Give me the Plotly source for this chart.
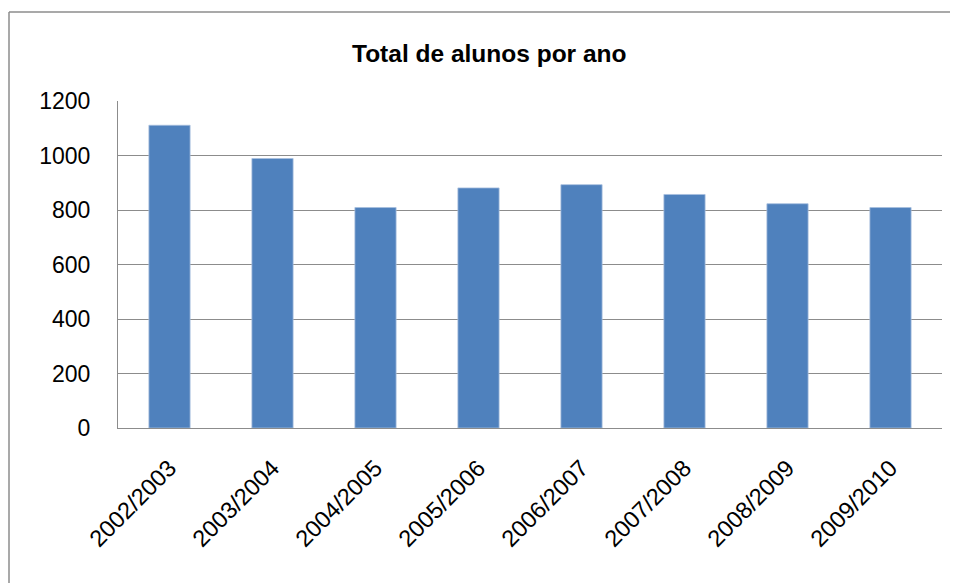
import plotly.graph_objects as go

categories = ["2002/2003", "2003/2004", "2004/2005", "2005/2006",
              "2006/2007", "2007/2008", "2008/2009", "2009/2010"]
totals = [1111, 989, 809, 881, 893, 857, 823, 809]
y_ticks = [0, 200, 400, 600, 800, 1000, 1200]

# the page body adds an 8 px offset, so the figure is drawn 8 px smaller
W, H = 950, 575
L, R, T, B = 110, 16, 93, 155
PW, PH = W - L - R, H - T - B


def px(x):
    return (x - L) / PW


def py(y):
    return (H - B - y) / PH


fig = go.Figure(go.Bar(
    x=categories, y=totals,
    marker=dict(color="#4F81BD", line=dict(color="#A7BFDE", width=0.8)),
))

font_family = "Liberation Sans, Arial, sans-serif"
fig.update_layout(
    width=W, height=H,
    margin=dict(l=L, r=R, t=T, b=B),
    paper_bgcolor="white", plot_bgcolor="white",
    bargap=0.6,
    showlegend=False,
    font=dict(family=font_family, color="#000000"),
    annotations=[dict(
        text="<b>Total de alunos por ano</b>",
        xref="paper", yref="paper",
        x=px(481.5), y=py(45),
        xanchor="center", yanchor="middle", showarrow=False,
        font=dict(size=24.5, family=font_family, color="#000000"),
    )],
    shapes=[
        dict(type="line", xref="paper", yref="paper",
             x0=px(1), x1=px(W + 20), y0=py(4), y1=py(4),
             line=dict(color="#8C8C8C", width=1.5)),
        dict(type="line", xref="paper", yref="paper",
             x0=px(1), x1=px(1), y0=py(4), y1=py(H + 20),
             line=dict(color="#8C8C8C", width=1.5)),
    ],
)

fig.update_yaxes(
    range=[0, 1200], tickvals=y_ticks, ticktext=[str(v) for v in y_ticks],
    showgrid=True, gridcolor="#8C8C8C", gridwidth=1,
    showline=True, linecolor="#8C8C8C", linewidth=1,
    zeroline=False, ticks="", ticklabelstandoff=22,
    tickfont=dict(size=23, family=font_family, color="#000000"),
)
fig.update_xaxes(
    showline=True, linecolor="#8C8C8C", linewidth=1,
    showgrid=False, tickangle=-45, ticks="", ticklabelstandoff=16,
    tickfont=dict(size=23.5, family=font_family, color="#000000"),
)

fig.write_html("out.html")
